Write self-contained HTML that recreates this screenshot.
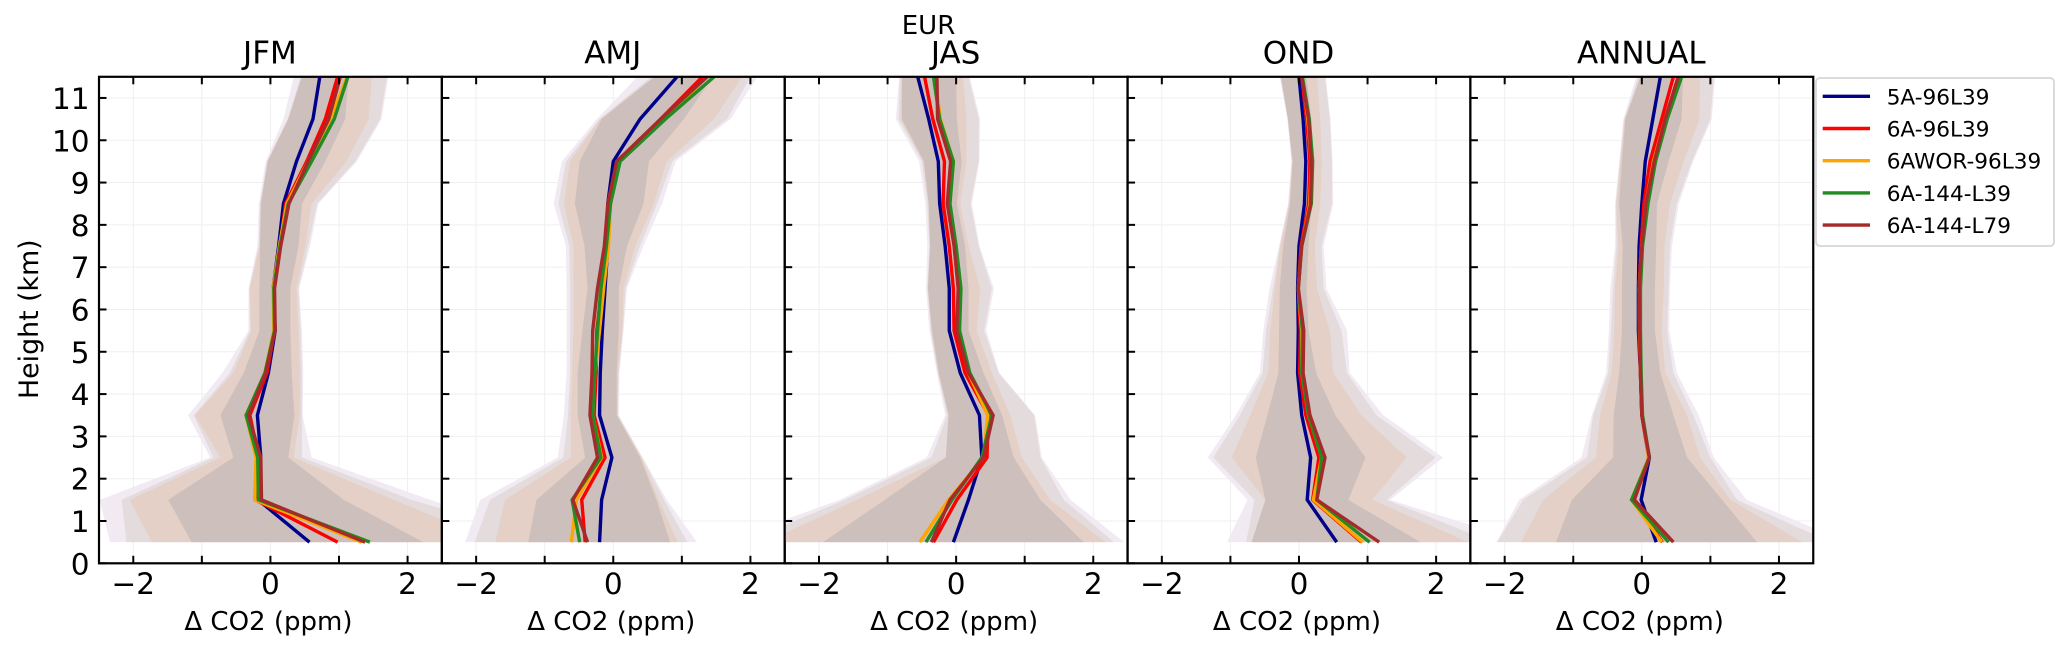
<!DOCTYPE html>
<html lang="en">
<head>
<meta charset="utf-8">
<title>EUR CO2 profile differences</title>
<style>
html,body{margin:0;padding:0;background:#fff;width:2067px;height:650px;overflow:hidden}
svg{display:block}
text{font-family:"DejaVu Sans","Liberation Sans",sans-serif;fill:#000}
</style>
</head>
<body>
<svg id="chart" xmlns="http://www.w3.org/2000/svg" width="2067" height="650" viewBox="0 0 2067 650">
  <rect x="0" y="0" width="2067" height="650" fill="#ffffff"/>
  <text x="928.5" y="34" font-size="26" text-anchor="middle">EUR</text>
  <text transform="translate(38,399) rotate(-90)" font-size="26.8">Height (km)</text>
  <g id="panels"></g>
  <g id="legend"></g>
</svg>
<script>
const heights = [0.5,1.5,2.5,3.5,4.5,5.5,6.5,7.5,8.5,9.5,10.5,11.5];
const xTicks = [-2,-1,0,1,2];
const xTickLabels = ["\u22122","","0","","2"];
const yTicks = [0,1,2,3,4,5,6,7,8,9,10,11];
const yTickLabels = ["0","1","2","3","4","5","6","7","8","9","10","11"];
const panelTitles = ["JFM","AMJ","JAS","OND","ANNUAL"];
const seriesNames = ["5A-96L39","6A-96L39","6AWOR-96L39","6A-144-L39","6A-144-L79"];
const seriesColors = ["#00008b","#ff0000","#ffa500","#228b22","#a52a2a"];
const bandColors = ["#f2eaf2","#e3dbdc","#e4d0c6","#cdbfbb"];

const jfmBlue = [.57,-.18,-.14,-.19,-.03,.07,.04,.12,.19,.38,.62,.72];
const jfmRed = [.98,-.22,-.17,-.30,-.05,.06,.05,.14,.22,.53,.80,.98];
const jfmOrange = [1.33,-.23,-.21,-.355,-.08,.05,.04,.13,.24,.55,.87,1.12];
const jfmGreen = [1.45,-.175,-.185,-.355,-.08,.06,.05,.14,.26,.60,.93,1.13];
const jfmBrown = [1.38,-.13,-.14,-.32,-.07,.07,.06,.15,.27,.55,.85,1.02];
const jfmLo1 = [-2.34,-2.49,-.88,-1.2,-.70,-.32,-.32,-.19,-.17,-.07,.19,.34];
const jfmLo2 = [-2.10,-2.17,-.83,-1.12,-.59,-.30,-.31,-.17,-.15,-.05,.25,.44];
const jfmLo3 = [-1.73,-2.05,-.73,-1.10,-.54,-.28,-.30,-.16,-.14,-.04,.26,.46];
const jfmLo4 = [-1.15,-1.49,-.54,-.73,-.39,-.16,-.16,-.15,-.14,-.04,.26,.46];
const jfmHi1 = [4.2,2.33,.60,.47,.48,.46,.42,.58,.70,1.26,1.62,1.72];
const jfmHi2 = [4.15,2.06,.46,.46,.46,.44,.41,.55,.68,1.24,1.60,1.70];
const jfmHi3 = [3.3,1.80,.34,.43,.43,.41,.38,.51,.60,1.11,1.43,1.48];
const jfmHi4 = [2.23,1.07,.26,.35,.31,.29,.29,.41,.46,.80,1.09,1.14];

const amjBlue = [-.20,-.17,-.02,-.20,-.19,-.16,-.12,-.08,-.08,0,.39,.93];
const amjRed = [-.41,-.46,-.12,-.28,-.25,-.24,-.17,-.10,-.08,.08,.69,1.30];
const amjOrange = [-.61,-.54,-.17,-.30,-.27,-.20,-.14,-.07,-.04,.09,.73,1.37];
const amjGreen = [-.49,-.60,-.18,-.30,-.27,-.23,-.18,-.10,-.04,.10,.76,1.47];
const amjBrown = [-.375,-.59,-.23,-.34,-.31,-.30,-.23,-.13,-.08,.05,.69,1.37];
const amjLo1 = [-2.16,-1.94,-.81,-.72,-.68,-.68,-.68,-.69,-.87,-.75,-.24,.35];
const amjLo2 = [-2.02,-1.80,-.73,-.66,-.63,-.63,-.63,-.64,-.80,-.69,-.20,.55];
const amjLo3 = [-1.72,-1.58,-.62,-.62,-.60,-.58,-.58,-.58,-.72,-.63,-.19,.60];
const amjLo4 = [-1.24,-1.12,-.41,-.52,-.52,-.45,-.375,-.42,-.56,-.49,-.17,.60];
const amjHi1 = [1.22,.78,.43,.08,.09,.15,.20,.44,.71,.91,1.71,2.10];
const amjHi2 = [1.08,.74,.42,.07,.08,.14,.18,.39,.64,.86,1.66,2.0];
const amjHi3 = [.94,.66,.41,.06,.07,.13,.15,.32,.59,.78,1.47,1.88];
const amjHi4 = [.83,.63,.39,.05,.05,.08,.08,.20,.44,.52,1.03,1.45];

const jasBlue = [-.04,.18,.375,.34,.06,-.10,-.10,-.16,-.24,-.26,-.40,-.56];
const jasRed = [-.33,.01,.45,.47,.13,-.03,-.04,-.10,-.19,-.17,-.34,-.46];
const jasOrange = [-.53,-.11,.40,.46,.18,.03,.06,-.01,-.09,-.04,-.23,-.31];
const jasGreen = [-.44,-.06,.375,.52,.20,.05,.07,0,-.09,-.04,-.24,-.33];
const jasBrown = [-.36,-.09,.40,.54,.18,.01,.03,-.03,-.13,-.08,-.27,-.28];
const jasLo1 = [-3.4,-1.70,-.43,-.16,-.28,-.39,-.44,-.42,-.45,-.54,-.88,-.83];
const jasLo2 = [-3.1,-1.62,-.36,-.13,-.27,-.37,-.42,-.39,-.42,-.50,-.84,-.82];
const jasLo3 = [-2.78,-1.45,-.15,-.11,-.26,-.36,-.41,-.38,-.40,-.48,-.81,-.79];
const jasLo4 = [-1.94,-1.04,-.15,-.11,-.25,-.35,-.41,-.38,-.40,-.47,-.79,-.79];
const jasHi1 = [2.45,1.67,1.25,1.15,.63,.44,.55,.34,.23,.34,.35,.2];
const jasHi2 = [2.30,1.57,1.23,1.14,.62,.41,.52,.33,.21,.33,.33,.18];
const jasHi3 = [2.18,1.37,.96,.79,.52,.30,.35,.18,.06,.15,.15,.1];
const jasHi4 = [1.86,1.23,.84,.67,.40,.18,.18,.13,.01,.08,.01,0];

const ondBlue = [.55,.12,.17,.04,-.02,-.01,-.02,0,.08,.10,.06,0];
const ondRed = [.91,.20,.29,.10,.01,.02,-.01,.03,.14,.16,.11,.04];
const ondOrange = [.93,.21,.33,.14,.04,.04,-.01,.04,.16,.18,.13,.05];
const ondGreen = [1.03,.26,.33,.14,.04,.05,-.01,.04,.18,.20,.15,.05];
const ondBrown = [1.17,.26,.38,.16,.06,.07,-.01,.04,.17,.18,.14,.04];
const ondLo1 = [-1.05,-.75,-1.33,-.92,-.57,-.52,-.43,-.29,-.16,-.11,-.17,-.28];
const ondLo2 = [-.77,-.65,-1.25,-.86,-.53,-.48,-.38,-.28,-.15,-.105,-.165,-.275];
const ondLo3 = [-.69,-.49,-.98,-.71,-.45,-.42,-.35,-.27,-.14,-.10,-.16,-.27];
const ondLo4 = [-.69,-.49,-.63,-.46,-.30,-.29,-.28,-.23,-.13,-.09,-.16,-.26];
const ondHi1 = [3.3,1.33,2.10,1.23,.74,.70,.40,.36,.50,.49,.46,.39];
const ondHi2 = [2.82,1.28,1.99,1.13,.70,.62,.36,.33,.48,.48,.45,.38];
const ondHi3 = [2.47,1.07,1.57,.91,.50,.45,.26,.23,.31,.33,.31,.26];
const ondHi4 = [1.77,.72,.97,.53,.25,.14,.11,.14,.18,.21,.18,.11];

const annBlue = [.21,-.01,.11,0,-.02,-.05,-.05,-.04,0,.05,.16,.27];
const annRed = [.30,-.11,.10,0,-.02,-.04,-.04,-.01,.03,.12,.29,.46];
const annOrange = [.29,-.15,.10,.01,-.02,-.03,-.04,0,.06,.17,.34,.53];
const annGreen = [.39,-.15,.11,.01,-.01,-.02,-.02,.01,.09,.20,.37,.58];
const annBrown = [.46,-.11,.11,0,-.02,-.03,-.04,0,.06,.18,.34,.53];
const annLo1 = [-2.12,-1.79,-.88,-.73,-.52,-.48,-.46,-.39,-.39,-.33,-.27,-.08];
const annLo2 = [-2.11,-1.73,-.80,-.71,-.49,-.45,-.42,-.37,-.38,-.32,-.26,-.05];
const annLo3 = [-1.76,-1.44,-.67,-.61,-.44,-.40,-.39,-.34,-.37,-.31,-.25,-.02];
const annLo4 = [-1.25,-1.02,-.42,-.41,-.33,-.29,-.29,-.28,-.33,-.29,-.24,-.02];
const annHi1 = [2.99,1.53,1.05,.83,.51,.40,.41,.44,.54,.75,1.02,1.07];
const annHi2 = [2.75,1.39,1.0,.75,.46,.37,.39,.41,.51,.73,1.0,1.05];
const annHi3 = [2.34,1.29,.85,.66,.34,.29,.32,.33,.41,.61,.84,.85];
const annHi4 = [1.68,1.17,.66,.46,.27,.19,.19,.21,.22,.39,.58,.60];

const panelLines = [
  [jfmBlue,jfmRed,jfmOrange,jfmGreen,jfmBrown],
  [amjBlue,amjRed,amjOrange,amjGreen,amjBrown],
  [jasBlue,jasRed,jasOrange,jasGreen,jasBrown],
  [ondBlue,ondRed,ondOrange,ondGreen,ondBrown],
  [annBlue,annRed,annOrange,annGreen,annBrown]
];
const panelBandsLo = [
  [jfmLo1,jfmLo2,jfmLo3,jfmLo4],
  [amjLo1,amjLo2,amjLo3,amjLo4],
  [jasLo1,jasLo2,jasLo3,jasLo4],
  [ondLo1,ondLo2,ondLo3,ondLo4],
  [annLo1,annLo2,annLo3,annLo4]
];
const panelBandsHi = [
  [jfmHi1,jfmHi2,jfmHi3,jfmHi4],
  [amjHi1,amjHi2,amjHi3,amjHi4],
  [jasHi1,jasHi2,jasHi3,jasHi4],
  [ondHi1,ondHi2,ondHi3,ondHi4],
  [annHi1,annHi2,annHi3,annHi4]
];

const NS = "http://www.w3.org/2000/svg";
const plotLeft = 99;
const panelWidth = 342.85;
const plotTop = 76.8;
const plotBottom = 563.3;
const xMin = -2.5, xMax = 2.5, yMin = 0, yMax = 11.5;

function panelX(p){ return plotLeft + p * panelWidth; }
function xScale(p, v){ return panelX(p) + (v - xMin) / (xMax - xMin) * panelWidth; }
function yScale(v){ return plotBottom - (v - yMin) / (yMax - yMin) * (plotBottom - plotTop); }
function make(parent, tag, props, text){
  const el = document.createElementNS(NS, tag);
  for (const k in props) el.setAttribute(k, props[k]);
  if (text !== undefined) el.textContent = text;
  parent.appendChild(el);
  return el;
}

const panelsRoot = document.getElementById("panels");
panelTitles.forEach(function(title, p){
  const slug = title.toLowerCase();
  const g = make(panelsRoot, "g", {});
  
  

  const clip = make(g, "clipPath", {id: "clip-" + p});
  make(clip, "rect", {x: panelX(p), y: plotTop, width: panelWidth, height: plotBottom - plotTop});

  xTicks.forEach(function(t){
    const gl = make(g, "line", {x1: xScale(p,t), x2: xScale(p,t), y1: plotTop, y2: plotBottom, stroke: "#efefef", "stroke-width": 1});
    
    
  });
  yTicks.forEach(function(t){
    const gl = make(g, "line", {x1: panelX(p), x2: panelX(p+1), y1: yScale(t), y2: yScale(t), stroke: "#efefef", "stroke-width": 1});
    
    
  });

  const clipped = make(g, "g", {"clip-path": "url(#clip-" + p + ")"});
  
  

  bandColors.forEach(function(color, b){
    const lo = panelBandsLo[p][b];
    const hi = panelBandsHi[p][b];
    const pts = [];
    heights.forEach(function(h, i){ pts.push(xScale(p, lo[i]).toFixed(2) + "," + yScale(h).toFixed(2)); });
    for (let i = heights.length - 1; i >= 0; i--) pts.push(xScale(p, hi[i]).toFixed(2) + "," + yScale(heights[i]).toFixed(2));
    const band = make(clipped, "polygon", {points: pts.join(" "), fill: color});
    
    
  });

  seriesNames.forEach(function(name, s){
    const vals = panelLines[p][s];
    const pts = heights.map(function(h, i){ return xScale(p, vals[i]).toFixed(2) + "," + yScale(h).toFixed(2); });
    const line = make(clipped, "polyline", {points: pts.join(" "), fill: "none", stroke: seriesColors[s], "stroke-width": 3.4, "stroke-linejoin": "miter"});
    
    
  });

  const frame = make(g, "rect", {x: panelX(p), y: plotTop, width: panelWidth, height: plotBottom - plotTop, fill: "none", stroke: "#000", "stroke-width": 2.2});
  
  

  xTicks.forEach(function(t, i){
    const x = xScale(p, t);
    const top = make(g, "line", {x1: x, x2: x, y1: plotTop, y2: plotTop + 7.5, stroke: "#000", "stroke-width": 2});
    
    
    const bot = make(g, "line", {x1: x, x2: x, y1: plotBottom, y2: plotBottom - 7.5, stroke: "#000", "stroke-width": 2});
    
    
    if (xTickLabels[i]) {
      const lab = make(g, "text", {x: x, y: 594, "font-size": 29.5, "text-anchor": "middle"}, xTickLabels[i]);
      
      
    }
  });
  yTicks.forEach(function(t, i){
    const y = yScale(t);
    const tick = make(g, "line", {x1: panelX(p), x2: panelX(p) + 7.5, y1: y, y2: y, stroke: "#000", "stroke-width": 2});
    
    
    if (p === 0) {
      const lab = make(g, "text", {x: 89.5, y: y + 11, "font-size": 29.5, "text-anchor": "end"}, yTickLabels[i]);
      
      
    }
  });

  const cx = panelX(p) + panelWidth / 2;
  const ttl = make(g, "text", {x: cx - 0.5, y: 63.5, "font-size": 31, "text-anchor": "middle"}, title);
  
  
  const xl = make(g, "text", {x: cx - 2, y: 630, "font-size": 26, "text-anchor": "middle"}, "\u0394 CO2 (ppm)");
  
  
});

const legendRoot = document.getElementById("legend");
const legendBox = make(legendRoot, "rect", {x: 1816, y: 78, width: 238, height: 168, rx: 4, ry: 4, fill: "#fff", stroke: "#d6d6d6", "stroke-width": 1.8});


seriesNames.forEach(function(name, s){
  const y = 96.3 + s * 32.2;
  const entry = make(legendRoot, "g", {});
  
  
  const sw = make(entry, "line", {x1: 1822.7, x2: 1870, y1: y, y2: y, stroke: seriesColors[s], "stroke-width": 3.4});
  
  
  const lab = make(entry, "text", {x: 1886.7, y: y + 8, "font-size": 21.6}, name);
  
  
});
</script>
</body>
</html>
